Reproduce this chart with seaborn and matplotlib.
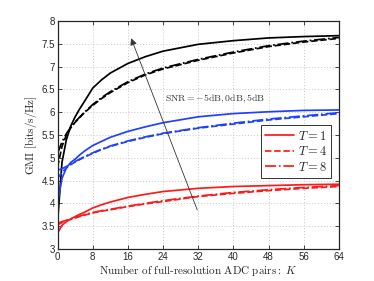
# GMI vs numero de pares ADC de resolucion completa
import numpy as np
import pandas as pd
import matplotlib
matplotlib.use("Agg")
import matplotlib.pyplot as plt
import seaborn as sns

# datos
K = [0, 1, 2, 3, 4, 5, 6, 8, 10, 12, 16, 20, 24, 32, 40, 48, 56, 64]

# SNR = 5dB (negro)
black_T1 = [3.6, 4.9, 5.4, 5.7, 5.9, 6.07, 6.22, 6.53, 6.71, 6.86, 7.07, 7.22, 7.34, 7.49, 7.57, 7.63, 7.66, 7.68]
black_T4 = [4.8, 5.25, 5.5, 5.66, 5.78, 5.88, 5.98, 6.15, 6.3, 6.43, 6.65, 6.82, 6.95, 7.14, 7.3, 7.44, 7.54, 7.62]
black_T8 = [5.1, 5.35, 5.53, 5.67, 5.79, 5.89, 5.99, 6.17, 6.32, 6.45, 6.67, 6.84, 6.97, 7.16, 7.32, 7.46, 7.56, 7.64]

# SNR = 0dB (azul)
blue_T1 = [4.0, 4.55, 4.78, 4.9, 4.97, 5.06, 5.14, 5.27, 5.36, 5.45, 5.58, 5.68, 5.77, 5.9, 5.97, 6.01, 6.04, 6.05]
blue_T4 = [4.55, 4.68, 4.78, 4.85, 4.91, 4.96, 5.01, 5.1, 5.18, 5.25, 5.36, 5.45, 5.53, 5.65, 5.74, 5.83, 5.9, 5.97]
blue_T8 = [4.73, 4.76, 4.81, 4.87, 4.92, 4.97, 5.02, 5.11, 5.19, 5.26, 5.37, 5.46, 5.54, 5.66, 5.76, 5.85, 5.92, 5.99]

# SNR = -5dB (rojo)
red_T1 = [3.35, 3.52, 3.6, 3.66, 3.71, 3.76, 3.8, 3.9, 3.97, 4.03, 4.13, 4.2, 4.26, 4.33, 4.37, 4.39, 4.41, 4.42]
red_T4 = [3.53, 3.58, 3.62, 3.65, 3.68, 3.71, 3.74, 3.79, 3.83, 3.86, 3.93, 3.99, 4.04, 4.15, 4.22, 4.28, 4.33, 4.37]
red_T8 = [3.56, 3.6, 3.63, 3.66, 3.69, 3.72, 3.75, 3.8, 3.84, 3.87, 3.94, 4.0, 4.06, 4.16, 4.24, 4.3, 4.35, 4.39]

T_labels = ["$T = 1$", "$T = 4$", "$T = 8$"]
x_ticks = [0, 8, 16, 24, 32, 40, 48, 56, 64]
y_ticks = [3, 3.5, 4, 4.5, 5, 5.5, 6, 6.5, 7, 7.5, 8]

sns.set_style("ticks")
plt.rcParams["font.family"] = ["Liberation Sans", "DejaVu Sans"]
plt.rcParams["mathtext.fontset"] = "cm"

fig = plt.figure(figsize=(3.74, 2.81), dpi=100)
ax = fig.add_axes([0.154, 0.114, 0.752, 0.811])

estilos = ["-", "--", "-."]
grupos = [
    ("black", [black_T1, black_T4, black_T8], False),
    ("#2040ff", [blue_T1, blue_T4, blue_T8], False),
    ("#ff1a1a", [red_T1, red_T4, red_T8], True),
]

for color, series, con_label in grupos:
    for i, vals in enumerate(series):
        df = pd.DataFrame({"K": K, "GMI": vals})
        sns.lineplot(
            data=df, x="K", y="GMI", ax=ax,
            color=color, linestyle=estilos[i], linewidth=1.25,
            label=T_labels[i] if con_label else None,
            legend=False,
        )

# flecha de SNR
ax.annotate(
    "", xy=(16.5, 7.68), xytext=(32, 3.8),
    arrowprops=dict(arrowstyle="-|>", color="#333333", lw=0.6,
                    mutation_scale=10),
)
ax.text(24.4, 6.29, r"$\mathrm{SNR} = -5\mathrm{dB}, 0\mathrm{dB}, 5\mathrm{dB}$",
        fontsize=7, color="#333333", va="center", ha="left")

ax.set_xlim(0, 64)
ax.set_ylim(3, 8)
ax.set_xticks(x_ticks)
ax.set_yticks(y_ticks)
ax.set_yticklabels([f"{v:g}" for v in y_ticks])
ax.tick_params(direction="in", labelsize=7, top=True, right=True,
               length=3, width=0.6, pad=2)
ax.grid(True, linestyle=(0, (1, 2)), color="#c8c8c8", linewidth=0.7)
for s in ax.spines.values():
    s.set_linewidth(0.9)

ax.set_xlabel(r"$\mathrm{Number\ of\ full\text{-}resolution\ ADC\ pairs:}\ K$", fontsize=8, labelpad=1)
ax.set_ylabel(r"$\mathrm{GMI\ [bits/s/Hz]}$", fontsize=8, labelpad=2)

handles, labels = ax.get_legend_handles_labels()
leg = ax.legend(handles, labels, loc="upper right", bbox_to_anchor=(0.995, 0.57),
                fontsize=9, frameon=True, fancybox=False, edgecolor="black",
                handlelength=2.3, handletextpad=0.3, borderpad=0.35,
                labelspacing=0.2)
leg.get_frame().set_linewidth(0.7)

fig.savefig("out.png", dpi=100)
